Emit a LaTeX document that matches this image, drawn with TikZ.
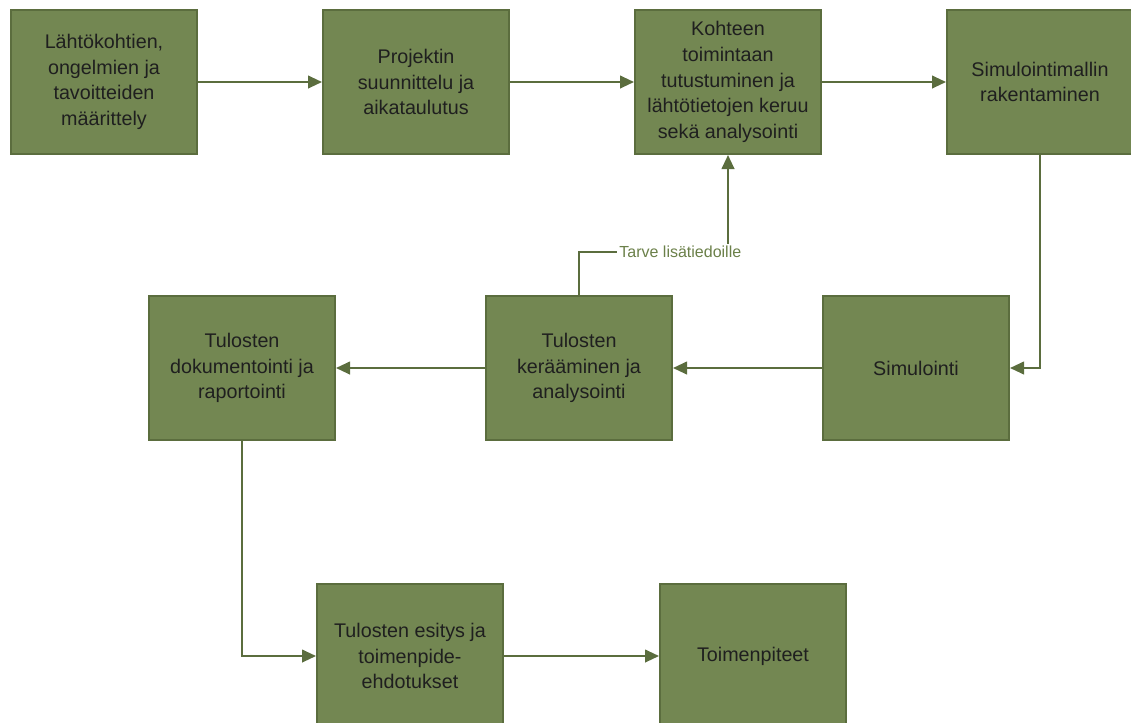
\documentclass[tikz,border=0pt]{standalone}
\usepackage{fontspec}
\setmainfont{Liberation Sans}
\usetikzlibrary{positioning,chains,arrows.meta}
\definecolor{stagefill}{HTML}{738752}
\definecolor{stageline}{HTML}{5B6D3E}
\definecolor{notetext}{HTML}{6B8049}
\tikzset{
	process flow/.style={
		x=0.75pt,y=0.75pt, % one unit is one pixel of the reference
		node distance=124,
		font=\fontsize{14.8}{19.2}\selectfont,
		every join/.style={flow arrow}
	},
	stage/.style={
		rectangle,
		draw=stageline,
		fill=stagefill,
		line width=1.5pt,
		on chain,
		minimum width=139.5pt,
		minimum height=108pt,
		align=center,
		text=black!88
	},
	flow arrow/.style={
		draw=stageline,
		line width=1.5pt,
		-{Triangle[length=10.5pt,width=9.5pt]}
	},
	need note/.style={
		fill=white,
		text=notetext,
		inner sep=1.5pt,
		font=\fontsize{12}{14}\selectfont
	}
}
\begin{document}
\begin{tikzpicture}[process flow]
	\useasboundingbox (0,0) rectangle (1131,-722);
	% first row, left to right
	\begin{scope}[start chain=upper going right]
		\node[stage] (start) at (104,-82) {Lähtökohtien,\\ ongelmien ja\\ tavoitteiden\\ määrittely};
		\node[stage,join] (plan) {Projektin\\ suunnittelu ja\\ aikataulutus};
		\node[stage,join] (data) {Kohteen\\ toimintaan\\ tutustuminen ja\\ lähtötietojen keruu\\ sekä analysointi};
		\node[stage,join] (model) {Simulointimallin\\ rakentaminen};
	\end{scope}
	% second row, right to left
	\begin{scope}[start chain=middle going left,node distance=149]
		\node[stage] (sim) at (916,-368) {Simulointi};
		\node[stage,join] (results) {Tulosten\\ kerääminen ja\\ analysointi};
		\node[stage,join] (report) {Tulosten\\ dokumentointi ja\\ raportointi};
	\end{scope}
	% third row
	\begin{scope}[start chain=lower going right,node distance=155]
		\node[stage] (present) at (410,-656) {Tulosten esitys ja\\ toimenpide-\\ ehdotukset};
		\node[stage,join] (action) {Toimenpiteet};
	\end{scope}
	\draw[flow arrow] (model.south) |- (sim.east);
	\draw[flow arrow] (report.south) |- (present.west);
	\draw[flow arrow] (results.north) -- ++(0,43) -| node[need note,pos=0.34] {Tarve lisätiedoille} (data.south);
\end{tikzpicture}
\end{document}
